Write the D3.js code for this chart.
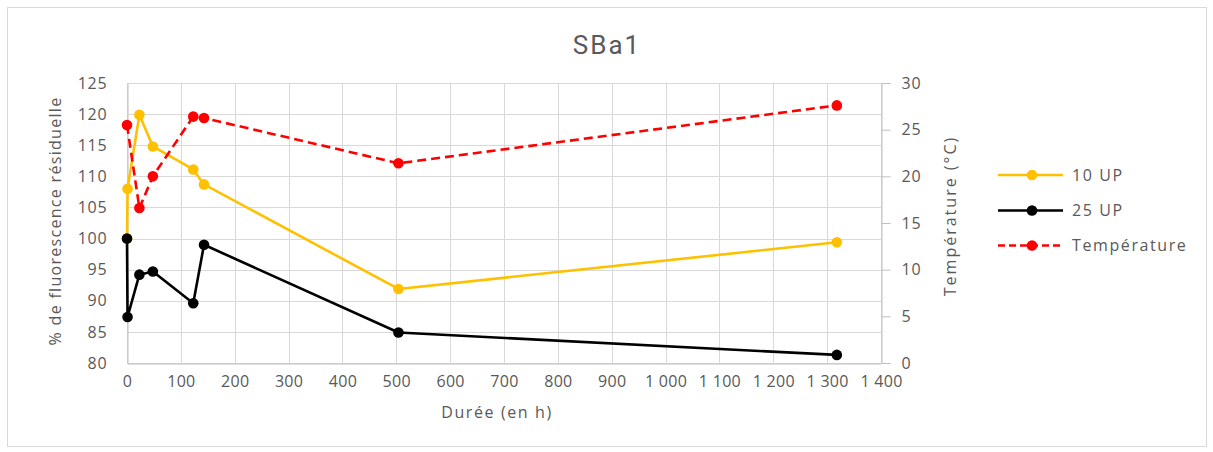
<!DOCTYPE html>
<html>
<head>
<meta charset="utf-8">
<script src="https://cdn.jsdelivr.net/npm/d3@7"></script>
<style>
  html, body { margin: 0; padding: 0; background: #fff; }
  svg { display: block; }
  text { font-family: "Open Sans", "Noto Sans", sans-serif; fill: #595959; }
</style>
</head>
<body>
<svg id="chart" width="1213" height="452"></svg>
<script>
// Sampling times (hours)
const hours = [0, 1, 23, 48, 123, 143, 504, 1318];
// Residual fluorescence (%)
const up10 = [100, 108, 119.9, 114.8, 111.1, 108.7, 91.9, 99.4];
const up25 = [100, 87.4, 94.2, 94.7, 89.6, 99.0, 84.9, 81.3];
// Temperature (°C), not measured at t = 1 h
const tempHours = [0, 23, 48, 123, 143, 504, 1318];
const temperature = [25.5, 16.6, 20.0, 26.4, 26.25, 21.4, 27.6];

const xTicks = d3.range(0, 1401, 100);
const yLeftTicks = d3.range(80, 126, 5);
const yRightTicks = d3.range(0, 31, 5);

const seriesNames = ["10 UP", "25 UP", "Température"];
const seriesColors = ["#FFC000", "#000000", "#FF0000"];

const svg = d3.select("#chart");

// outer chart frame
svg.append("rect")
  .attr("x", 7.5).attr("y", 7.5)
  .attr("width", 1199).attr("height", 439)
  .attr("fill", "#fff").attr("stroke", "#d9d9d9").attr("stroke-width", 1);

const plot = { left: 127, right: 881, top: 83, bottom: 363 };

const x = d3.scaleLinear().domain([0, 1400]).range([plot.left, plot.right]);
const yL = d3.scaleLinear().domain([80, 125]).range([plot.bottom, plot.top]);
const yR = d3.scaleLinear().domain([0, 30]).range([plot.bottom, plot.top]);

const fmt = d => d3.format(",")(d).replace(/,/g, " ");

// grid
const grid = svg.append("g").attr("stroke", "#d9d9d9").attr("stroke-width", 1);
grid.selectAll("line.v").data(xTicks).join("line")
  .attr("x1", d => Math.round(x(d)) + 0.5).attr("x2", d => Math.round(x(d)) + 0.5)
  .attr("y1", plot.top).attr("y2", plot.bottom);
grid.selectAll("line.h").data(yLeftTicks).join("line")
  .attr("x1", plot.left).attr("x2", plot.right)
  .attr("y1", d => Math.round(yL(d)) + 0.5).attr("y2", d => Math.round(yL(d)) + 0.5);

// axes
const xAxis = svg.append("g")
  .attr("transform", `translate(0,${plot.bottom + 0.5})`)
  .call(d3.axisBottom(x).tickValues(xTicks).tickFormat(fmt).tickSize(0).tickPadding(12));
const yAxisL = svg.append("g")
  .attr("transform", `translate(${plot.left + 0.5},0)`)
  .call(d3.axisLeft(yL).tickValues(yLeftTicks).tickSize(0).tickPadding(20));
const yAxisR = svg.append("g")
  .attr("transform", `translate(${plot.right + 0.5},0)`)
  .call(d3.axisRight(yR).tickValues(yRightTicks).tickSize(9).tickPadding(11));

[xAxis, yAxisL, yAxisR].forEach(g => {
  g.select(".domain").attr("stroke", "#bfbfbf");
  g.selectAll(".tick line").attr("stroke", "#bfbfbf");
  g.selectAll(".tick text").attr("fill", "#595959")
    .style("font-family", '"Open Sans", "Noto Sans", sans-serif')
    .style("font-size", "16px")
    .style("letter-spacing", "0.8px");
});
xAxis.selectAll(".tick text").style("letter-spacing", "0.3px");

// series
const line = (xs, ys, yScale) => d3.line()
  .x((d, i) => x(xs[i])).y(d => yScale(d))(ys);

function drawSeries(xs, ys, yScale, color, dash) {
  const g = svg.append("g");
  g.append("path")
    .attr("d", line(xs, ys, yScale))
    .attr("fill", "none").attr("stroke", color)
    .attr("stroke-width", 2.6)
    .attr("stroke-linejoin", "round")
    .attr("stroke-dasharray", dash || null);
  g.selectAll("circle").data(ys).join("circle")
    .attr("cx", (d, i) => x(xs[i])).attr("cy", d => yScale(d))
    .attr("r", 5.3).attr("fill", color);
}

drawSeries(hours, up10, yL, seriesColors[0]);
drawSeries(hours, up25, yL, seriesColors[1]);
drawSeries(tempHours, temperature, yR, seriesColors[2], "9,5");

// titles
svg.append("text")
  .attr("x", 607).attr("y", 54)
  .attr("text-anchor", "middle")
  .style("font-family", '"Liberation Sans Narrow", "Roboto", sans-serif')
  .style("font-size", "26px")
  .style("letter-spacing", "2px")
  .text("SBa1");

svg.append("text")
  .attr("x", 497).attr("y", 418)
  .attr("text-anchor", "middle")
  .style("font-size", "16px")
  .style("letter-spacing", "1.6px")
  .text("Durée (en h)");

svg.append("text")
  .attr("transform", "translate(61,221) rotate(-90)")
  .attr("text-anchor", "middle")
  .style("font-size", "16px")
  .style("letter-spacing", "1.3px")
  .text("% de fluorescence résiduelle");

svg.append("text")
  .attr("transform", "translate(956,216) rotate(-90)")
  .attr("text-anchor", "middle")
  .style("font-size", "16px")
  .style("letter-spacing", "2px")
  .text("Température (°C)");

// legend
const legend = svg.append("g");
const rows = [175, 210.5, 245.5];
seriesNames.forEach((name, i) => {
  const g = legend.append("g").attr("transform", `translate(0,${rows[i]})`);
  g.append("line")
    .attr("x1", 998).attr("x2", 1063)
    .attr("stroke", seriesColors[i]).attr("stroke-width", 2.6)
    .attr("stroke-dasharray", i === 2 ? "7,4" : null);
  g.append("circle").attr("cx", 1032).attr("cy", 0).attr("r", 5.3).attr("fill", seriesColors[i]);
  g.append("text").attr("x", 1072).attr("y", 0).attr("dy", "0.35em")
    .style("font-size", "16px")
    .style("letter-spacing", "1.6px")
    .text(name);
});
</script>
</body>
</html>
